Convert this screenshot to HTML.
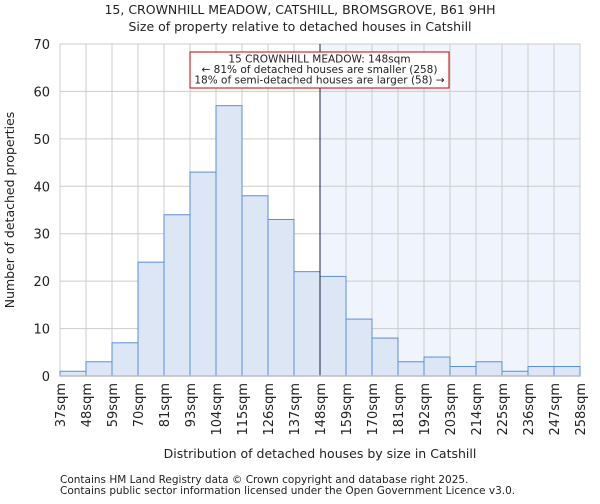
<!DOCTYPE html>
<html><head><meta charset="utf-8"><style>
body{margin:0;background:#fff;font-family:"DejaVu Sans","Liberation Sans",sans-serif;}
svg text{font-family:"DejaVu Sans","Liberation Sans",sans-serif;fill:#222;}
</style></head><body>
<svg id="c" width="600" height="500"></svg>
<script>
const binLabels=["37sqm","48sqm","59sqm","70sqm","81sqm","93sqm","104sqm","115sqm","126sqm","137sqm","148sqm","159sqm","170sqm","181sqm","192sqm","203sqm","214sqm","225sqm","236sqm","247sqm","258sqm"];
const counts=[1,3,7,24,34,43,57,38,33,22,21,12,8,3,4,2,3,1,2,2];
const yTicks=[0,10,20,30,40,50,60,70];
const markerIndex=10;
const NS="http://www.w3.org/2000/svg";
const svg=document.getElementById('c');
const L=60,R=580,T=44,B=376,yMax=70;
const bw=(R-L)/counts.length;
const xs=i=>L+i*bw;
const ys=v=>B-(v/yMax)*(B-T);
function mk(tag,attrs,parent){const e=document.createElementNS(NS,tag);for(const k in attrs)e.setAttribute(k,attrs[k]);(parent||svg).appendChild(e);return e;}
let e;
e=mk('rect',{x:xs(markerIndex),y:T,width:R-xs(markerIndex),height:B-T,fill:'#f0f4fc'});


yTicks.forEach(t=>{e=mk('line',{x1:L,x2:R,y1:ys(t),y2:ys(t),stroke:'#cccccc','stroke-width':1});

});
binLabels.forEach((b,i)=>{e=mk('line',{x1:xs(i),x2:xs(i),y1:T,y2:B,stroke:'#cccccc','stroke-width':1});

});
counts.forEach((v,i)=>{e=mk('rect',{x:xs(i),y:ys(v),width:bw,height:B-ys(v),fill:'#dce6f5',stroke:'#5b8fd6','stroke-width':1});

});
e=mk('line',{x1:xs(markerIndex),x2:xs(markerIndex),y1:T,y2:B,stroke:'#222244','stroke-width':1});


e=mk('line',{x1:L,x2:R,y1:B,y2:B,stroke:'#bbbbbb','stroke-width':1.5});


yTicks.forEach(t=>{e=mk('text',{x:L-10,y:ys(t)+5,'text-anchor':'end','font-size':13});e.textContent=t;

});
binLabels.forEach((b,i)=>{const x=xs(i)+5;e=mk('text',{x:x,y:383,'text-anchor':'end','font-size':13,transform:`rotate(-90 ${x} 383)`});e.textContent=b;

});
e=mk('rect',{x:190,y:52,width:259,height:36,fill:'#fff',stroke:'#cc0000','stroke-width':1});


["15 CROWNHILL MEADOW: 148sqm","← 81% of detached houses are smaller (258)","18% of semi-detached houses are larger (58) →"].forEach((s,i)=>{
e=mk('text',{x:319.5,y:62.5+i*10.5,'text-anchor':'middle','font-size':10.5});e.textContent=s;

});
e=mk('text',{x:300,y:14,'text-anchor':'middle','font-size':12.5});e.textContent="15, CROWNHILL MEADOW, CATSHILL, BROMSGROVE, B61 9HH";


e=mk('text',{x:300,y:31,'text-anchor':'middle','font-size':12.5});e.textContent="Size of property relative to detached houses in Catshill";


e=mk('text',{x:320,y:458,'text-anchor':'middle','font-size':12.5});e.textContent="Distribution of detached houses by size in Catshill";


e=mk('text',{x:14,y:210,'text-anchor':'middle','font-size':12.5,transform:'rotate(-90 14 210)'});e.textContent="Number of detached properties";


e=mk('text',{x:60,y:483,'font-size':10.5,fill:'#444'});e.textContent="Contains HM Land Registry data © Crown copyright and database right 2025.";


e=mk('text',{x:60,y:494,'font-size':10.5,fill:'#444'});e.textContent="Contains public sector information licensed under the Open Government Licence v3.0.";


</script>
</body></html>
